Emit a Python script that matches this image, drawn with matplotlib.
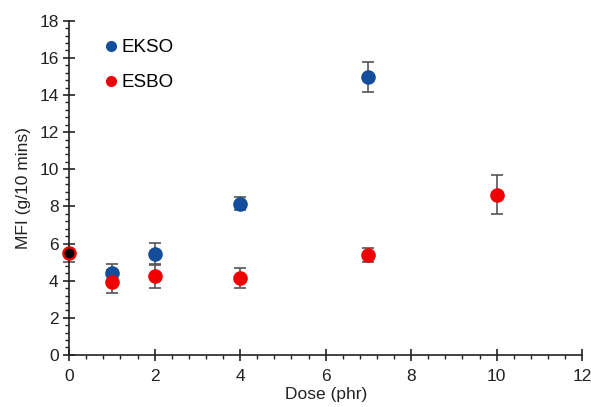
import matplotlib.pyplot as plt
from matplotlib.lines import Line2D
from matplotlib.ticker import MultipleLocator

plt.rcParams['font.family'] = ['Liberation Sans', 'DejaVu Sans']

# melt flow index vs plasticiser dose
dose_ekso = [1, 2, 4, 7]
mfi_ekso = [4.4, 5.43, 8.15, 14.98]
err_ekso = [0.5, 0.6, 0.35, 0.82]

dose_esbo = [1, 2, 4, 7, 10]
mfi_esbo = [3.95, 4.25, 4.15, 5.38, 8.62]
err_esbo = [0.62, 0.63, 0.55, 0.38, 1.05]

# neat resin (no plasticiser)
dose_neat = [0]
mfi_neat = [5.5]
err_neat = [0.5]

blue = '#134D9B'
red = '#F00000'
ecol = '#555555'

fig, ax = plt.subplots(figsize=(5.91, 4.07), dpi=100)
fig.subplots_adjust(left=0.117, right=0.985, bottom=0.128, top=0.949)


def points(x, y, e, col):
    ax.errorbar(x, y, e, fmt='none', ecolor=ecol, elinewidth=1.2, capsize=4,
                capthick=1.2, clip_on=False, zorder=2)
    ax.plot(x, y, 'o', ms=10.5, color=col, mew=0, clip_on=False, zorder=3)


points(dose_neat, mfi_neat, err_neat, red)
ax.plot(dose_neat, mfi_neat, 'o', ms=7, color='black', mew=0, clip_on=False, zorder=5)
points(dose_ekso, mfi_ekso, err_ekso, blue)
points(dose_esbo, mfi_esbo, err_esbo, red)

ax.set_xlim(0, 12)
ax.set_ylim(0, 18)
ax.xaxis.set_major_locator(MultipleLocator(2))
ax.xaxis.set_minor_locator(MultipleLocator(0.4))
ax.yaxis.set_major_locator(MultipleLocator(2))
ax.yaxis.set_minor_locator(MultipleLocator(0.4))
ax.tick_params(which='major', direction='inout', length=8, width=1.2, labelsize=12.5, colors='#222222')
ax.tick_params(which='minor', direction='out', length=3, width=1, colors='#222222')
ax.tick_params(axis='x', pad=6)

for s in ['top', 'right']:
    ax.spines[s].set_visible(False)
for s in ['left', 'bottom']:
    ax.spines[s].set_linewidth(1.2)
    ax.spines[s].set_color('#222222')

ax.set_xlabel('Dose (phr)', fontsize=12.5, labelpad=2, color='#222222')
ax.set_ylabel('MFI (g/10 mins)', fontsize=12.5, labelpad=6, color='#222222')

handles = [Line2D([], [], ls='none', marker='o', ms=8, mew=0, color=blue),
           Line2D([], [], ls='none', marker='o', ms=8, mew=0, color=red)]
ax.legend(handles, ['EKSO', 'ESBO'], loc='upper left', bbox_to_anchor=(0.03, 0.995),
          frameon=False, fontsize=13.5, handletextpad=0.05, labelspacing=0.95,
          handlelength=1.0)

fig.savefig('out.png', dpi=100)
